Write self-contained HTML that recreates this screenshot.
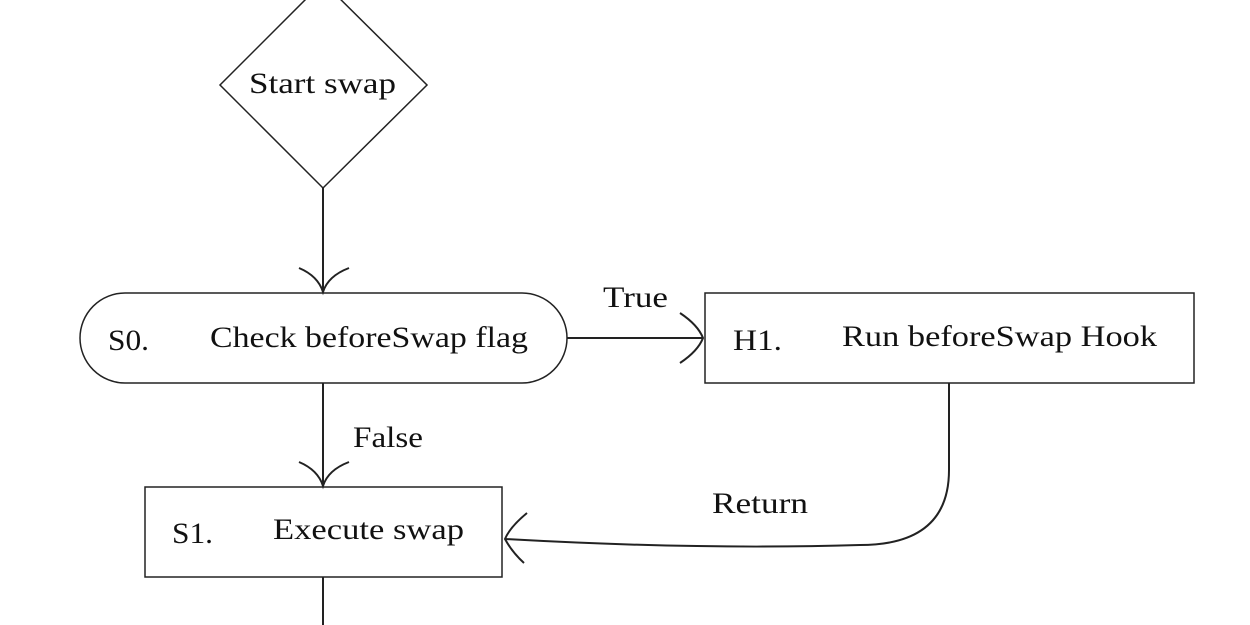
<!DOCTYPE html>
<html><head><meta charset="utf-8"><style>
html,body{margin:0;padding:0;background:#fff;width:1250px;height:625px;overflow:hidden}
svg text{font-family:"Liberation Serif",serif;font-size:30px;fill:#111}
</style></head><body>
<svg width="1250" height="625" viewBox="0 0 1250 625" xmlns="http://www.w3.org/2000/svg">
<g fill="none" stroke="#222" stroke-width="2">
<polygon points="323,-18 427,85 323,188 220,85" stroke-width="1.5"/>
<line x1="323" y1="188" x2="323" y2="292"/>
<path d="M299,268 Q318,276 323,292 Q328,276 349,268"/>
<rect x="80" y="293" width="487" height="90" rx="45" ry="45" stroke-width="1.5"/>
<line x1="567" y1="338" x2="703" y2="338"/>
<path d="M680,313 Q698,325 703,338 Q698,351 680,363"/>
<rect x="705" y="293" width="489" height="90" stroke-width="1.5"/>
<line x1="323" y1="383" x2="323" y2="486"/>
<path d="M299,462 Q318,470 323,486 Q328,470 349,462"/>
<rect x="145" y="487" width="357" height="90" stroke-width="1.5"/>
<path d="M949,383 L949,470 Q949,545 860,545 Q700,550 505,539"/>
<path d="M527,513 Q510,527 505,539 Q512,552 524,563"/>
<line x1="323" y1="577" x2="323" y2="625"/>
</g>
<text x="249" y="93" textLength="147" lengthAdjust="spacingAndGlyphs">Start swap</text>
<text x="108" y="350" textLength="41" lengthAdjust="spacingAndGlyphs">S0.</text>
<text x="210" y="347" textLength="318" lengthAdjust="spacingAndGlyphs">Check beforeSwap flag</text>
<text x="603" y="307" textLength="65" lengthAdjust="spacingAndGlyphs">True</text>
<text x="733" y="350" textLength="49" lengthAdjust="spacingAndGlyphs">H1.</text>
<text x="842" y="346" textLength="315" lengthAdjust="spacingAndGlyphs">Run beforeSwap Hook</text>
<text x="353" y="447" textLength="70" lengthAdjust="spacingAndGlyphs">False</text>
<text x="712" y="513" textLength="96" lengthAdjust="spacingAndGlyphs">Return</text>
<text x="172" y="543" textLength="41" lengthAdjust="spacingAndGlyphs">S1.</text>
<text x="273" y="539" textLength="191" lengthAdjust="spacingAndGlyphs">Execute swap</text>
</svg>
</body></html>
